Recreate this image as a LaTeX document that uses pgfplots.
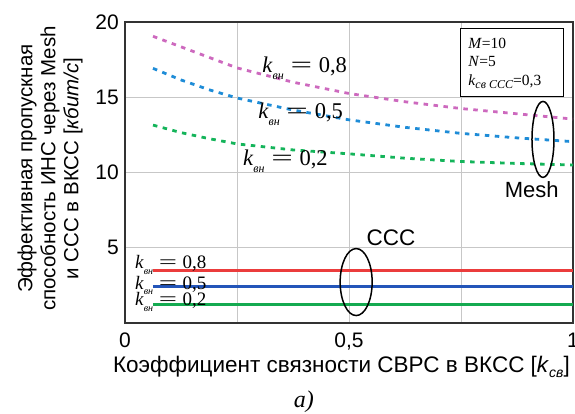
\documentclass[border=0pt]{standalone}
\usepackage{fontspec}
\setmainfont{Liberation Sans}
\newfontfamily\tms{Liberation Serif}
\usepackage{graphicx}
\usepackage{pgfplots}
\pgfplotsset{compat=1.18}

\definecolor{meshP}{RGB}{205,105,190}
\definecolor{meshB}{RGB}{30,140,215}
\definecolor{meshG}{RGB}{20,180,90}
\definecolor{cccR}{RGB}{235,60,60}
\definecolor{cccB}{RGB}{35,85,185}
\definecolor{cccG}{RGB}{20,170,80}

% k_{vn} = value label in serif
\newcommand{\klab}[3]{{\fontsize{#1}{#1}\selectfont\tms
 \textit{k}\raisebox{-0.3em}{\fontsize{#2}{#2}\selectfont\textit{вн}}%
 \hspace{0.3em}\scalebox{1.7}[1]{=}\hspace{0.3em}#3}}

\begin{document}
\begin{tikzpicture}
\begin{axis}[
  scale only axis, width=448pt, height=301pt,
  xmin=0, xmax=1, ymin=0, ymax=20,
  xtick={0,0.25,0.5,0.75,1}, xticklabels={0,,{0,5},,1},
  ytick={5,10,15,20}, yticklabels={5,10,15,20},
  grid=major, grid style={line width=0.9pt, color=black!22},
  axis line style={line width=1.3pt, color=black!80},
  major tick length=0pt,
  ticklabel style={font=\fontsize{21}{21}\selectfont},
  xticklabel style={anchor=north, inner sep=0pt, yshift=-10pt},
  yticklabel style={anchor=east, inner sep=0pt, xshift=-6pt},
  clip=false,
]
% Mesh curves
\addplot[meshP, line width=2.8pt, dash pattern=on 4.5pt off 5.5pt] coordinates {
 (0.0625,19.05) (0.125,18.35) (0.1875,17.65) (0.25,16.95) (0.375,16.0) (0.5,15.25)
 (0.625,14.7) (0.75,14.25) (0.875,13.9) (1,13.55)};
\addplot[meshB, line width=2.8pt, dash pattern=on 4.5pt off 5.5pt] coordinates {
 (0.0625,16.92) (0.125,16.15) (0.1875,15.5) (0.25,14.95) (0.375,14.15) (0.5,13.5)
 (0.625,13.0) (0.75,12.6) (0.875,12.3) (1,12.05)};
\addplot[meshG, line width=2.8pt, dash pattern=on 4.5pt off 5.5pt] coordinates {
 (0.0625,13.15) (0.125,12.65) (0.1875,12.25) (0.25,11.9) (0.375,11.5) (0.5,11.24)
 (0.625,10.95) (0.75,10.73) (0.875,10.6) (1,10.5)};
% CCC lines
\addplot[cccR, line width=2.8pt] coordinates {(0.0625,3.47) (1,3.47)};
\addplot[cccB, line width=2.8pt] coordinates {(0.0625,2.45) (1,2.45)};
\addplot[cccG, line width=2.8pt] coordinates {(0.0625,1.25) (1,1.25)};

% ellipses
\draw[line width=1.5pt] (axis cs:0.516,2.72) ellipse [x radius=16pt, y radius=33.5pt];
\draw[line width=1.5pt] (axis cs:0.933,12.2) ellipse [x radius=11pt, y radius=38pt];

% curve labels
\node[anchor=base west, inner sep=0pt] at (axis cs:0.306,16.66) {\klab{22.5}{12}{0,8}};
\node[anchor=base west, inner sep=0pt] at (axis cs:0.297,13.6) {\klab{22.5}{12}{0,5}};
\node[anchor=base west, inner sep=0pt] at (axis cs:0.263,10.45) {\klab{22.5}{12}{0,2}};
\node[anchor=base west, inner sep=0pt] at (axis cs:0.022,3.6) {\klab{19}{10}{0,8}};
\node[anchor=base west, inner sep=0pt] at (axis cs:0.022,2.24) {\klab{19}{10}{0,5}};
\node[anchor=base west, inner sep=0pt] at (axis cs:0.022,1.15) {\klab{19}{10}{0,2}};

\node[font=\fontsize{22}{22}\selectfont, inner sep=0pt] at (axis cs:0.908,8.83) {Mesh};
\node[font=\fontsize{22.5}{22.5}\selectfont, inner sep=0pt] at (axis cs:0.594,5.68) {ССС};

% info box
\draw[line width=1pt, fill=white] (axis cs:0.748,19.6) rectangle (axis cs:0.978,15.02);
\node[anchor=base west, inner sep=0pt, font=\fontsize{15.5}{15.5}\selectfont\tms] at (axis cs:0.766,18.25) {\textit{M}=10};
\node[anchor=base west, inner sep=0pt, font=\fontsize{15.5}{15.5}\selectfont\tms] at (axis cs:0.766,17.03) {\textit{N}=5};
\node[anchor=base west, inner sep=0pt, font=\fontsize{15.5}{15.5}\selectfont\tms] at (axis cs:0.766,15.81)
  {\textit{k}\raisebox{-0.25em}{\fontsize{12}{12}\selectfont\textit{св ССС}}=0,3};

% axis labels
\node[rotate=90, align=center, inner sep=0pt, font=\fontsize{20.5}{23}\selectfont]
  at ([xshift=-75pt]rel axis cs:0,0.513)
  {Эффективная пропускная\\способность ИНС через Mesh\\и ССС в ВКСС [\textit{кбит/с}]};
\node[anchor=base, inner sep=0pt, font=\fontsize{22.5}{22.5}\selectfont]
  at ([yshift=-49pt]rel axis cs:0.483,0)
  {Коэффициент связности СВРС в ВКСС [\textit{k}\raisebox{-0.25em}{\fontsize{14}{14}\selectfont\textit{св}}]};
\node[anchor=base, inner sep=0pt, font=\fontsize{24}{24}\selectfont\tms\itshape]
  at ([yshift=-84pt]rel axis cs:0.399,0) {a)};
\end{axis}
\pgfresetboundingbox
\useasboundingbox (-125pt,-91pt) rectangle (450pt,323pt);
\end{tikzpicture}
\end{document}
